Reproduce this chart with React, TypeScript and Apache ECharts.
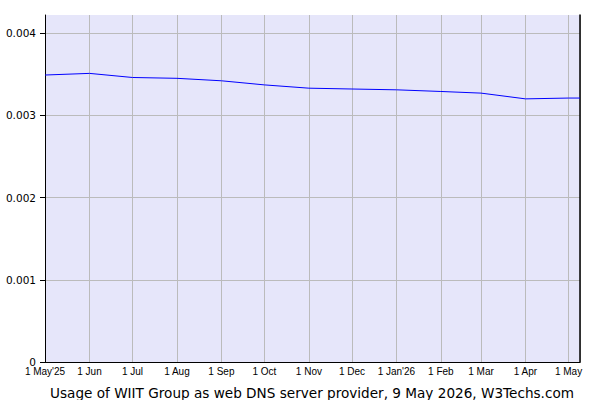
import React, { useEffect, useRef } from 'react';
import * as echarts from 'echarts';

// monthly samples, share of websites (fraction)
const dates = [
  '2025-05-01', '2025-06-01', '2025-07-01', '2025-08-01', '2025-09-01', '2025-10-01',
  '2025-11-01', '2025-12-01', '2026-01-01', '2026-02-01', '2026-03-01', '2026-04-01',
  '2026-05-01', '2026-05-09',
];
const usage = [
  0.00349, 0.00351, 0.00346, 0.00345, 0.00342, 0.00337,
  0.00333, 0.00332, 0.00331, 0.00329, 0.00327, 0.00320,
  0.00321, 0.00321,
];
const tickDates = [
  '2025-05-01', '2025-06-01', '2025-07-01', '2025-08-01', '2025-09-01', '2025-10-01',
  '2025-11-01', '2025-12-01', '2026-01-01', '2026-02-01', '2026-03-01', '2026-04-01',
  '2026-05-01',
];
const tickLabels = [
  "1 May'25", '1 Jun', '1 Jul', '1 Aug', '1 Sep', '1 Oct',
  '1 Nov', '1 Dec', "1 Jan'26", '1 Feb', '1 Mar', '1 Apr',
  '1 May',
];
const yTicks = [0, 0.001, 0.002, 0.003, 0.004];
const yMax = 0.00422;
const titleText = 'Usage of WIIT Group as web DNS server provider, 9 May 2026, W3Techs.com';

const toTime = (s: string) => Date.parse(s + 'T00:00:00Z');

const App: React.FC = () => {
  const chartRef = useRef<HTMLDivElement | null>(null);

  useEffect(() => {
    if (!chartRef.current) return;
    const chart = echarts.init(chartRef.current, undefined, { renderer: 'svg' });
    const tickTimes = tickDates.map(toTime);

    const option: echarts.EChartsOption = {
      animation: false,
      useUTC: true,
      title: {
        text: titleText,
        left: 307,
        top: 381,
        textAlign: 'center',
        textStyle: { fontFamily: 'DejaVu Sans', fontSize: 13.6, fontWeight: 'normal', color: '#000' },
      },
      grid: {
        left: 45,
        right: 20,
        top: 15,
        bottom: 38,
        show: true,
        backgroundColor: '#e6e6fa',
        borderWidth: 0,
      },
      xAxis: {
        type: 'time',
        min: toTime('2025-05-01'),
        max: toTime('2026-05-09'),
        splitNumber: 12,
        axisLine: { show: true, lineStyle: { color: '#000', width: 1 } },
        axisTick: { show: false },
        splitLine: { show: true, lineStyle: { color: '#bbbbbb', width: 1 } },
        axisLabel: {
          showMaxLabel: false,
          margin: 4,
          color: '#000',
          fontFamily: 'Liberation Sans',
          fontSize: 10,
          lineHeight: 10,
          hideOverlap: false,
          formatter: (v: number) => {
            const i = tickTimes.indexOf(v);
            return i >= 0 ? tickLabels[i] : '';
          },
        },
      },
      yAxis: [
        {
          type: 'value',
          min: 0,
          max: yMax,
          interval: 0.001,
          axisLine: { show: true, lineStyle: { color: '#000', width: 1 } },
          axisTick: { show: true, length: 5, lineStyle: { color: '#000' } },
          splitLine: {
            show: true,
            lineStyle: {
              width: 1,
              // last line sits on the plot's top edge (max), keep it invisible
              color: [...yTicks.map(() => '#bbbbbb'), 'rgba(0,0,0,0)'],
            },
          },
          axisLabel: {
            showMaxLabel: false,
            margin: 9,
            color: '#000',
            fontFamily: 'DejaVu Sans',
            fontSize: 10.5,
            lineHeight: 8,
            formatter: (v: number) => {
              const t = yTicks.find((y) => Math.abs(y - v) < 1e-9);
              if (t === undefined) return '';
              return t === 0 ? '0' : t.toFixed(3);
            },
          },
        },
        {
          type: 'value',
          position: 'right',
          min: 0,
          max: yMax,
          axisLine: { show: true, lineStyle: { color: '#000', width: 1.5 } },
          axisTick: { show: false },
          axisLabel: { show: false },
          splitLine: { show: false },
        },
      ],
      series: [
        {
          type: 'line',
          data: dates.map((d, i) => [toTime(d), usage[i]]),
          showSymbol: false,
          lineStyle: { color: '#0000ff', width: 1 },
          itemStyle: { color: '#0000ff' },
          z: 3,
        },
      ],
    };

    chart.setOption(option);
    return () => {
      chart.dispose();
    };
  }, []);

  return (
    <div
      ref={chartRef}
      style={{ position: 'absolute', left: 0, top: 0, width: '600px', height: '400px' }}
    />
  );
};

export default App;
